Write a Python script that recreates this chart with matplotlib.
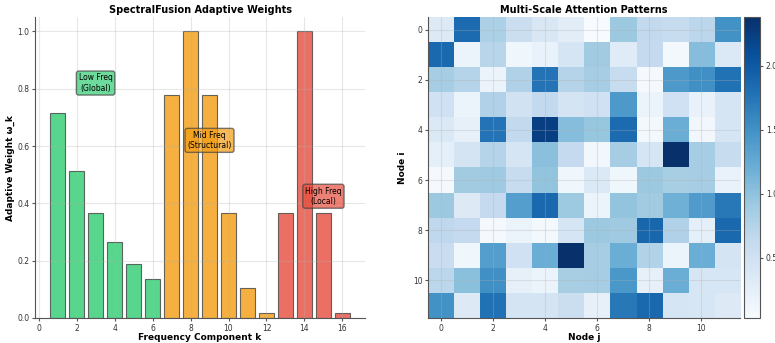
import numpy as np
import matplotlib
matplotlib.use("Agg")
import matplotlib.pyplot as plt

# 频率分量权重
freq_k = [1, 2, 3, 4, 5, 6, 7, 8, 9, 10, 11, 12, 13, 14, 15, 16]
weights = [0.715, 0.513, 0.368, 0.264, 0.189, 0.135,
           0.779, 1.0, 0.779, 0.368, 0.105, 0.018,
           0.368, 1.0, 0.368, 0.018]
band = ['low'] * 6 + ['mid'] * 6 + ['high'] * 4
band_colors = {'low': '#2ecc71', 'mid': '#f39c12', 'high': '#e74c3c'}

band_labels = ['Low Freq\n(Global)', 'Mid Freq\n(Structural)', 'High Freq\n(Local)']
label_x = [3, 9, 15]
label_y = [0.82, 0.62, 0.425]
label_band = ['low', 'mid', 'high']

# 注意力矩阵 (12x12)
attention = [
    [0.34, 1.84, 0.81, 0.55, 0.38, 0.27, 0.03, 0.92, 0.64, 0.59, 0.69, 1.49],
    [1.86, 0.15, 0.71, 0.12, 0.19, 0.43, 0.88, 0.31, 0.62, 0.08, 1.04, 0.36],
    [0.85, 0.74, 0.15, 0.78, 1.77, 0.74, 0.85, 0.59, 0.05, 1.42, 1.51, 1.79],
    [0.50, 0.15, 0.78, 0.48, 0.64, 0.45, 0.50, 1.42, 0.15, 0.50, 0.19, 0.43],
    [0.36, 0.22, 1.77, 0.64, 2.24, 1.04, 0.95, 1.84, 0.08, 1.21, 0.10, 0.43],
    [0.24, 0.45, 0.74, 0.43, 1.02, 0.62, 0.10, 0.85, 0.43, 2.38, 0.85, 0.59],
    [0.05, 0.88, 0.90, 0.59, 0.97, 0.12, 0.36, 0.12, 0.92, 0.83, 0.85, 0.19],
    [0.92, 0.34, 0.62, 1.37, 1.86, 0.91, 0.15, 0.97, 0.88, 1.18, 1.39, 1.72],
    [0.66, 0.62, 0.05, 0.17, 0.08, 0.43, 0.92, 0.90, 1.89, 0.78, 0.24, 1.86],
    [0.57, 0.12, 1.37, 0.50, 1.21, 2.38, 0.85, 1.21, 0.76, 0.15, 1.21, 0.45],
    [0.69, 1.02, 1.51, 0.22, 0.15, 0.83, 0.85, 1.44, 0.22, 1.21, 0.41, 0.41],
    [1.49, 0.34, 1.79, 0.45, 0.45, 0.55, 0.22, 1.72, 1.86, 0.43, 0.41, 0.34],
]

plt.rcParams['font.family'] = ['DejaVu Sans']
plt.rcParams['axes.edgecolor'] = '#555555'
plt.rcParams['xtick.color'] = '#555555'
plt.rcParams['ytick.color'] = '#555555'
plt.rcParams['xtick.labelcolor'] = '#333333'
plt.rcParams['ytick.labelcolor'] = '#333333'
plt.rcParams['xtick.labelsize'] = 5.5
plt.rcParams['ytick.labelsize'] = 5.5
plt.rcParams['xtick.major.size'] = 2.5
plt.rcParams['ytick.major.size'] = 2.5
plt.rcParams['xtick.major.pad'] = 1.5
plt.rcParams['ytick.major.pad'] = 1.5

fig = plt.figure(figsize=(7.75, 3.43), dpi=100)
ax1 = fig.add_axes([0.0452, 0.0729, 0.4258, 0.8771])
ax2 = fig.add_axes([0.5523, 0.0729, 0.4026, 0.8771])
cax = fig.add_axes([0.960, 0.0729, 0.021, 0.8771])

# 左图：自适应权重柱状图
colors = [band_colors[b] for b in band]
ax1.bar(freq_k, weights, color=colors, edgecolor='#444444', linewidth=0.8, alpha=0.8, width=0.8)
for txt, x, y, b in zip(band_labels, label_x, label_y, label_band):
    ax1.text(x, y, txt, ha='center', va='center', fontsize=5.5,
             bbox=dict(boxstyle='round,pad=0.3', facecolor=band_colors[b], edgecolor='#444444', alpha=0.7))
ax1.set_xticks(range(0, 17, 2))
ax1.set_title('SpectralFusion Adaptive Weights', fontsize=7, fontweight='bold', pad=3)
ax1.set_xlabel('Frequency Component k', fontsize=6.5, fontweight='bold', labelpad=0.5)
ax1.set_ylabel('Adaptive Weight ω_k', fontsize=6.5, fontweight='bold', labelpad=1.5)
ax1.grid(True, alpha=0.3)
ax1.spines['top'].set_visible(False)
ax1.spines['right'].set_visible(False)

# 右图：注意力热力图
att = np.array(attention)
im = ax2.imshow(att, cmap='Blues', aspect='auto')
ax2.set_xticks(range(0, 12, 2))
ax2.set_yticks(range(0, 12, 2))
ax2.set_title('Multi-Scale Attention Patterns', fontsize=7, fontweight='bold', pad=3)
ax2.set_xlabel('Node j', fontsize=6.5, fontweight='bold', labelpad=0.5)
ax2.set_ylabel('Node i', fontsize=6.5, fontweight='bold', labelpad=4)
ax2.grid(True, alpha=0.3)
ax2.spines['top'].set_visible(False)
ax2.spines['right'].set_visible(False)

cb = fig.colorbar(im, cax=cax)
cb.outline.set_edgecolor('#555555')
cb.set_ticks([0.5, 1.0, 1.5, 2.0])

fig.savefig('out.png', dpi=100)
